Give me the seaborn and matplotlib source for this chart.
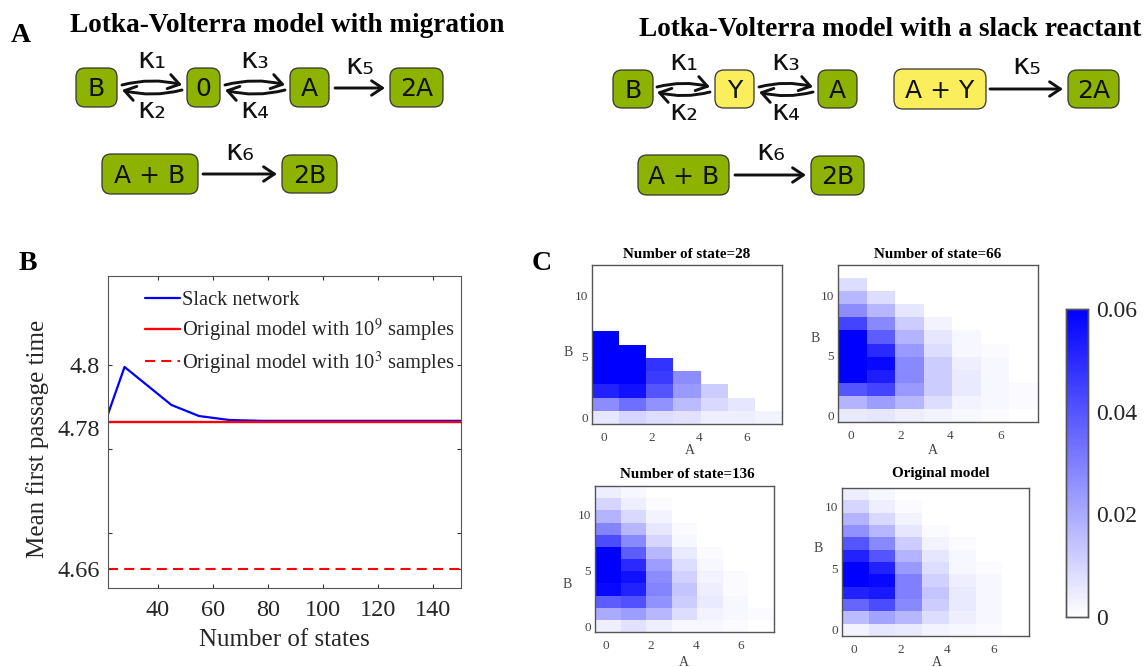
import matplotlib
matplotlib.use("Agg")
import matplotlib.pyplot as plt
import numpy as np
import pandas as pd
import seaborn as sns
from matplotlib.colors import LinearSegmentedColormap
from matplotlib.patches import FancyArrowPatch, FancyBboxPatch
from matplotlib.transforms import ScaledTranslation

# panel B values
states = [22, 28, 45, 55, 66, 78, 91, 105, 120, 136, 150]
slack_mfpt = [4.7827, 4.7993, 4.7859, 4.7820, 4.7806, 4.7803, 4.7803, 4.7803, 4.7803, 4.7803, 4.7803]
state_range = [22, 150]
original_1e9 = [4.78, 4.78]
original_1e3 = [4.66, 4.66]
mfpt_ticks = [4.66, 4.78, 4.8]
mfpt_tick_labels = ["4.66", "4.78", "4.8"]
state_ticks = [40, 60, 80, 100, 120, 140]

# panel C values, rows listed from the top of each map
grid_28 = [
    [0, 0, 0, 0, 0, 0, 0],
    [0, 0, 0, 0, 0, 0, 0],
    [0, 0, 0, 0, 0, 0, 0],
    [0, 0, 0, 0, 0, 0, 0],
    [0, 0, 0, 0, 0, 0, 0],
    [.06, 0, 0, 0, 0, 0, 0],
    [.06, .06, 0, 0, 0, 0, 0],
    [.06, .06, .048, 0, 0, 0, 0],
    [.06, .06, .046, .027, 0, 0, 0],
    [.052, .056, .040, .024, .012, 0, 0],
    [.027, .034, .026, .016, .009, .006, 0],
    [.006, .010, .008, .007, .004, .004, .003],
]
grid_66 = [
    [0, 0, 0, 0, 0, 0, 0],
    [.008, 0, 0, 0, 0, 0, 0],
    [.017, .008, 0, 0, 0, 0, 0],
    [.027, .017, .006, 0, 0, 0, 0],
    [.044, .028, .012, .003, 0, 0, 0],
    [.06, .038, .018, .006, .002, 0, 0],
    [.06, .050, .024, .008, .002, .001, 0],
    [.06, .058, .028, .012, .004, .002, 0],
    [.06, .053, .028, .012, .005, .002, 0],
    [.040, .044, .024, .012, .005, .002, .001],
    [.018, .023, .017, .008, .003, .002, .001],
    [.005, .006, .004, .003, .002, .001, 0],
]
grid_136 = [
    [.004, .002, 0, 0, 0, 0, 0],
    [.010, .004, .001, 0, 0, 0, 0],
    [.018, .009, .003, 0, 0, 0, 0],
    [.029, .017, .006, .001, 0, 0, 0],
    [.042, .028, .010, .002, 0, 0, 0],
    [.06, .038, .017, .005, .001, 0, 0],
    [.06, .050, .023, .008, .002, 0, 0],
    [.06, .056, .027, .011, .003, .001, 0],
    [.058, .052, .029, .014, .004, .001, 0],
    [.038, .041, .026, .012, .005, .002, 0],
    [.020, .023, .017, .008, .003, .002, .001],
    [.004, .007, .004, .002, .002, .001, 0],
]
grid_orig = [
    [.004, .002, 0, 0, 0, 0, 0],
    [.010, .004, .001, 0, 0, 0, 0],
    [.018, .009, .003, 0, 0, 0, 0],
    [.026, .017, .006, .001, 0, 0, 0],
    [.040, .028, .012, .003, .001, 0, 0],
    [.052, .040, .018, .006, .002, 0, 0],
    [.06, .052, .024, .008, .002, .001, 0],
    [.06, .058, .030, .011, .004, .002, 0],
    [.052, .054, .030, .014, .005, .002, 0],
    [.036, .042, .028, .012, .005, .002, 0],
    [.016, .022, .017, .008, .004, .002, 0],
    [.003, .006, .005, .003, .002, .001, 0],
]
grid_titles = ["Number of state=28", "Number of state=66", "Number of state=136", "Original model"]
grids = [grid_28, grid_66, grid_136, grid_orig]
b_upper = [12.5, 12.5, 12.5, 11.5]
a_ticks = [0, 2, 4, 6]
b_ticks = [0, 5, 10]
cbar_ticks = [0, 0.02, 0.04, 0.06]

W, H = 1144, 667
TEXT = "#262626"
EDGE = "#555555"
GREEN = "#8db300"
YELLOW = "#fbee5c"

sns.set_style("white")
plt.rcParams["font.family"] = ["Liberation Serif", "DejaVu Serif"]
plt.rcParams["mathtext.fontset"] = "stix"
plt.rcParams["axes.edgecolor"] = EDGE
plt.rcParams["text.color"] = TEXT
plt.rcParams["xtick.color"] = TEXT
plt.rcParams["ytick.color"] = TEXT
plt.rcParams["axes.labelcolor"] = TEXT

fig = plt.figure(figsize=(W / 100, H / 100), dpi=100)


def px_axes(left, top, right, bottom):
    return fig.add_axes([left / W, 1 - bottom / H, (right - left) / W, (bottom - top) / H])


# overlay in pixel coordinates for the reaction schemes and free labels
canvas = fig.add_axes([0, 0, 1, 1], zorder=5)
canvas.set_xlim(0, W)
canvas.set_ylim(H, 0)
canvas.axis("off")


def box(left, top, right, bottom, label, color=GREEN):
    canvas.add_patch(FancyBboxPatch((left + 8, top + 8), right - left - 16, bottom - top - 16,
                                    boxstyle="round,pad=8,rounding_size=9", fc=color, ec="#333333", lw=0.9))
    canvas.text((left + right) / 2, (top + bottom) / 2 + 2, label, ha="center", va="center",
                fontsize=18, color="#111111", family="DejaVu Sans")


def arrow(x0, y0, x1, y1, rad=0.0):
    canvas.add_patch(FancyArrowPatch((x0, y0), (x1, y1), arrowstyle="->,head_length=6,head_width=4",
                                     connectionstyle=f"arc3,rad={rad}", lw=2.1, color="#111111",
                                     shrinkA=0, shrinkB=0, mutation_scale=1.3))


def rate(x, y, label):
    canvas.text(x, y, label, ha="center", va="center", fontsize=21, color="#111111", family="DejaVu Sans")


def loop(x0, x1, y):
    arrow(x0, y - 2, x1, y - 2, rad=-0.13)
    arrow(x1, y + 3, x0, y + 3, rad=-0.13)


canvas.text(11, 36, "A", fontsize=20, fontweight="bold", color="black", ha="left", va="center")
canvas.text(19, 263, "B", fontsize=20, fontweight="bold", color="black", ha="left", va="center")
canvas.text(532, 264, "C", fontsize=20, fontweight="bold", color="black", ha="left", va="center")
canvas.text(70, 26, "Lotka-Volterra model with migration", fontsize=19.6, fontweight="bold", color="black", va="center")
canvas.text(639, 29, "Lotka-Volterra model with a slack reactant", fontsize=19.6, fontweight="bold", color="black", va="center")

# left scheme
box(76, 68, 117, 107, "B")
box(187, 68, 220, 107, "0")
box(290, 68, 329, 107, "A")
box(390, 68, 443, 107, "2A")
box(102, 154, 198, 194, "A + B")
box(282, 155, 337, 193, "2B")
loop(122, 182, 87)
loop(225, 285, 87)
arrow(335, 88, 385, 88)
arrow(203, 174, 277, 174)
rate(152, 60, "κ₁")
rate(152, 110, "κ₂")
rate(255, 60, "κ₃")
rate(255, 110, "κ₄")
rate(360, 66, "κ₅")
rate(240, 152, "κ₆")

# right scheme
box(613, 70, 653, 108, "B")
box(715, 70, 754, 108, "Y", YELLOW)
box(818, 70, 857, 108, "A")
box(894, 69, 986, 109, "A + Y", YELLOW)
box(1068, 70, 1119, 108, "2A")
box(638, 155, 729, 195, "A + B")
box(811, 156, 864, 195, "2B")
loop(657, 710, 89)
loop(759, 813, 89)
arrow(990, 89, 1063, 89)
arrow(735, 175, 806, 175)
rate(684, 62, "κ₁")
rate(684, 112, "κ₂")
rate(786, 62, "κ₃")
rate(786, 112, "κ₄")
rate(1027, 66, "κ₅")
rate(771, 152, "κ₆")

# panel B, the axis is stretched piecewise like the source figure
axis_values = [4.6445, 4.66, 4.78, 4.8, 4.8314]
axis_pos = [0, 19, 166.3, 223, 312]


def to_pos(v):
    return np.interp(v, axis_values, axis_pos)


def from_pos(p):
    return np.interp(p, axis_pos, axis_values)


ax_b = px_axes(108, 276, 461, 588)
ax_b.set_yscale("function", functions=(to_pos, from_pos))
slack_df = pd.DataFrame({"states": states, "mfpt": slack_mfpt})
sns.lineplot(data=slack_df, x="states", y="mfpt", ax=ax_b, color="#0000ff", lw=1.6, label="Slack network")
sns.lineplot(x=state_range, y=original_1e9, ax=ax_b, color="#ff0000", lw=1.7,
             label="Original model with 10$^{9}$ samples")
sns.lineplot(x=state_range, y=original_1e3, ax=ax_b, color="#ff0000", lw=1.5, linestyle=(0, (4.8, 3)),
             label="Original model with 10$^{3}$ samples")
ax_b.set_xlim(22, 150)
ax_b.set_ylim(4.6445, 4.8314)
ax_b.set_xticks(state_ticks)
ax_b.set_yticks(mfpt_ticks, mfpt_tick_labels)
ax_b.set_yticks([4.6893, 4.7577], minor=True)
ax_b.tick_params(axis="both", which="both", direction="in", length=3, width=0.8, top=True, right=True,
                 left=True, bottom=True, labelsize=17.5, color="#333333")
ax_b.tick_params(axis="x", pad=9)
ax_b.tick_params(axis="y", pad=6)
ax_b.yaxis.get_major_ticks()[1].label1.set_transform(
    ax_b.yaxis.get_major_ticks()[1].label1.get_transform()
    + ScaledTranslation(0, -6 / 100, fig.dpi_scale_trans))
ax_b.set_xlabel("Number of states", fontsize=18)
ax_b.set_ylabel("Mean first passage time", fontsize=18)
ax_b.xaxis.set_label_coords(0.5, -0.132)
ax_b.yaxis.set_label_coords(-0.167, 0.478)
ax_b.legend(loc="upper left", bbox_to_anchor=(145 / W, 1 - 291 / H), bbox_transform=fig.transFigure, frameon=False,
            fontsize=14.8, handlelength=1.72, handletextpad=0.1, labelspacing=0.3, borderpad=0, borderaxespad=0)

# panel C
white_blue = LinearSegmentedColormap.from_list("white_blue", ["#ffffff", "#0000ff"])
rects = [(592, 265, 782, 424), (838, 265, 1038, 422), (595, 486, 774, 632), (842, 488, 1029, 636)]
cax = px_axes(1066, 309, 1088, 617)

for i, (grid, title, rect) in enumerate(zip(grids, grid_titles, rects)):
    ax = px_axes(*rect)
    frame = pd.DataFrame(grid)
    kwargs = {"cbar": False}
    if i == 0:
        kwargs = {"cbar": True, "cbar_ax": cax}
    sns.heatmap(frame, ax=ax, cmap=white_blue, vmin=0, vmax=0.06, xticklabels=False, yticklabels=False, **kwargs)
    for spine in ax.spines.values():
        spine.set_visible(True)
        spine.set_color(EDGE)
        spine.set_linewidth(1.0)
    # heatmap cells run 0..7 and 0..12, the A and B axes are -0.5..7.5 and -0.5..top
    ax.set_xticks([(a + 0.5) * 7 / 8 for a in a_ticks], a_ticks)
    ax.set_yticks([(b_upper[i] - b) * 12 / (b_upper[i] + 0.5) for b in b_ticks], b_ticks, rotation=0)
    ax.tick_params(axis="both", direction="in", length=2, width=0.7, top=True, right=True, left=True, bottom=True,
                   labelsize=9.5, color="#333333", labelcolor="#444444")
    ax.tick_params(axis="x", pad=6)
    ax.tick_params(axis="y", pad=3)

canvas.text(687, 255, grid_titles[0], fontsize=10.9, fontweight="bold", color="black", ha="center", va="center")
canvas.text(938, 254, grid_titles[1], fontsize=10.9, fontweight="bold", color="black", ha="center", va="center")
canvas.text(687, 474, grid_titles[2], fontsize=10.9, fontweight="bold", color="black", ha="center", va="center")
canvas.text(941, 474, grid_titles[3], fontsize=10.9, fontweight="bold", color="black", ha="center", va="center")
for x, y in [(568, 352), (815, 338), (567, 584), (818, 549)]:
    canvas.text(x, y, "B", fontsize=10, color="#444444", ha="center", va="center")
for x, y in [(690, 451), (933, 451), (684, 662), (937, 662)]:
    canvas.text(x, y, "A", fontsize=10, color="#444444", ha="center", va="center")

cax.set_yticks(cbar_ticks, ["0", "0.02", "0.04", "0.06"])
cax.set_yticks([0.01, 0.03, 0.05], minor=True)
cax.tick_params(axis="y", which="both", direction="in", length=3, width=0.7, right=True, left=False,
                labelsize=17, pad=6, color="#333333")
for spine in cax.spines.values():
    spine.set_visible(True)
    spine.set_color(EDGE)
    spine.set_linewidth(1.0)

fig.savefig("out.png", dpi=100)
